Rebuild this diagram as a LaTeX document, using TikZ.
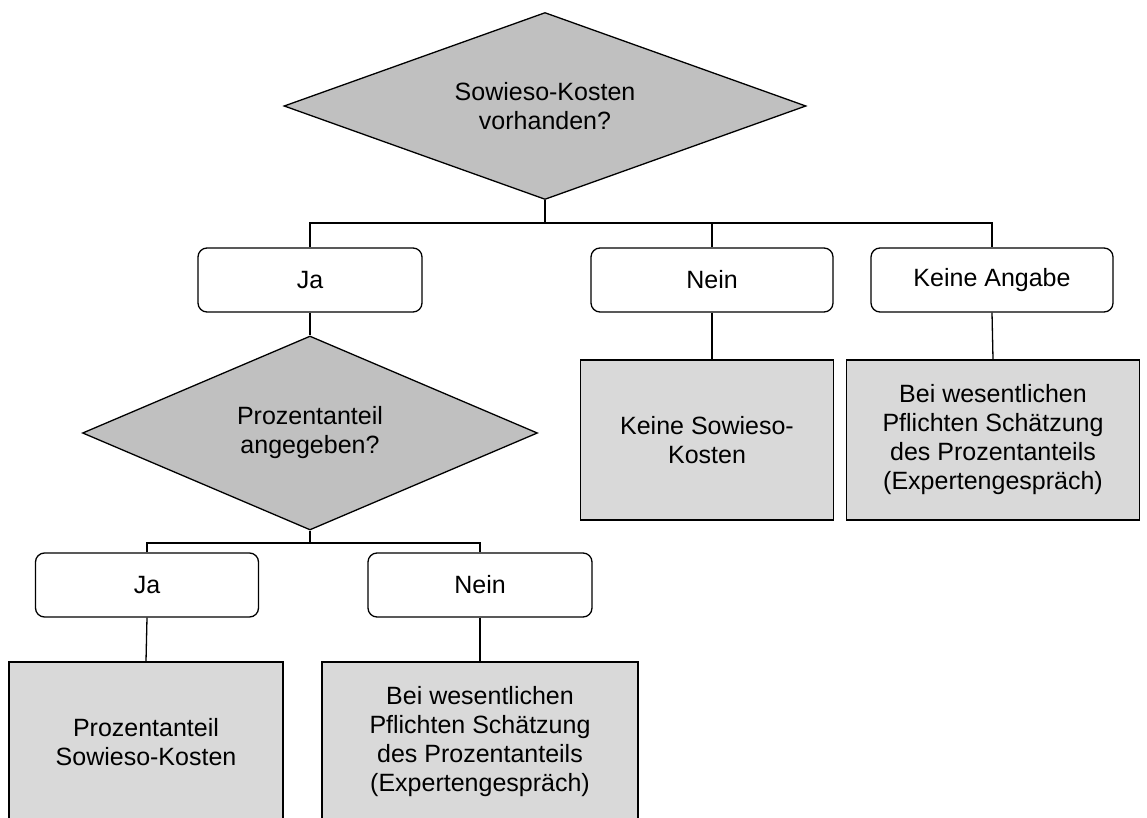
\documentclass[tikz,border=0pt]{standalone}
\usepackage{fontspec}
\setmainfont{Liberation Sans}
\usepackage{tikz}
\usetikzlibrary{shapes.geometric}

\definecolor{rautegrau}{RGB}{192,192,192}
\definecolor{kastengrau}{RGB}{217,217,217}

\begin{document}
\begin{tikzpicture}[x=1pt, y=-1pt, line width=1.3pt,
    every node/.style={font=\fontsize{25}{29}\selectfont, align=center},
    frage/.style={diamond, draw, fill=rautegrau, aspect=2.7, inner sep=0pt},
    antwort/.style={rectangle, draw, rounded corners=9pt, minimum height=64pt},
    ergebnis/.style={rectangle, draw, fill=kastengrau, minimum height=160pt}]
    \useasboundingbox (0,0) rectangle (1147,818);
    \clip (0,0) rectangle (1147,818);

    % erste Frage
    \node[frage, minimum width=522pt, minimum height=187pt] (frageA) at (545,106) {Sowieso-Kosten\\vorhanden?};
    \node[antwort, minimum width=224pt] (jaA) at (310,280) {Ja};
    \node[antwort, minimum width=242pt] (neinA) at (712,280) {Nein};
    \node[antwort, minimum width=242pt] (keineA) at (992,280) {Keine Angabe};
    \node[ergebnis, minimum width=253pt] (ergB) at (707,440) {Keine Sowieso-\\Kosten};
    \node[ergebnis, minimum width=293pt] (ergC) at (993,440) {Bei wesentlichen\\Pflichten Sch\"atzung\\des Prozentanteils\\(Expertengespr\"ach)};

    % zweite Frage
    \node[frage, minimum width=455pt, minimum height=194pt] (frageB) at (310,433) {Prozentanteil\\angegeben?};
    \node[antwort, minimum width=223pt] (jaB) at (147,585) {Ja};
    \node[antwort, minimum width=224pt] (neinB) at (480,585) {Nein};
    \node[ergebnis, minimum width=274pt] (ergD) at (146,742) {Prozentanteil\\Sowieso-Kosten};
    \node[ergebnis, minimum width=316pt] (ergE) at (480,742) {Bei wesentlichen\\Pflichten Sch\"atzung\\des Prozentanteils\\(Expertengespr\"ach)};

    \coordinate (astA) at (545,223);
    \coordinate (astB) at (310,543);

    \draw (frageA.south) -- (astA);
    \draw (jaA.north) |- (keineA.north |- astA) -- (keineA.north);
    \draw (neinA.north) -- (neinA.north |- astA);
    \draw (jaA.south) -- (frageB.north);
    \draw (neinA.south) -- (neinA.south |- ergB.north);
    \draw (keineA.south) -- (ergC.north);

    \draw (frageB.south) -- (astB);
    \draw (jaB.north) |- (neinB.north |- astB) -- (neinB.north);
    \draw (jaB.south) -- (ergD.north);
    \draw (neinB.south) -- (ergE.north);
\end{tikzpicture}
\end{document}
